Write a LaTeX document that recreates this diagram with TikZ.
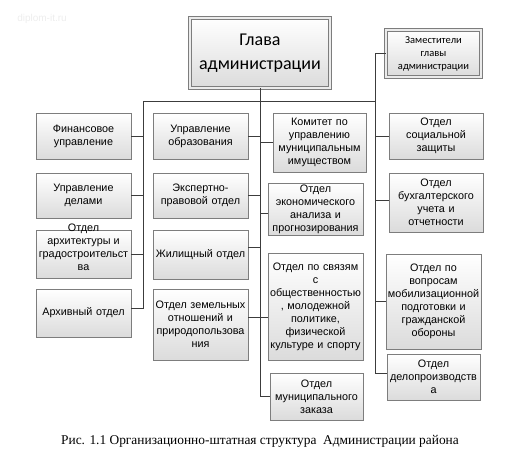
\documentclass[tikz,border=0pt]{standalone}
\usepackage{fontspec}
\setmainfont{Liberation Sans}
\newfontfamily\headfont{Carlito}
\newfontfamily\capfont{Liberation Serif}
\usetikzlibrary{calc}
\usetikzlibrary{shadows}
\definecolor{linegray}{RGB}{60,60,60}
\definecolor{boxgray}{RGB}{125,125,125}
\tikzstyle{unitbox}=[draw=boxgray, line width=0.8pt, top color=white, bottom color=black!14, inner xsep=0pt, inner ysep=0pt, align=center, font=\fontsize{10.8}{13}\selectfont, drop shadow={shadow xshift=1pt, shadow yshift=-1pt, opacity=0.25}]
\tikzstyle{headbox}=[unitbox, draw=boxgray, double=black!8, double distance=1.6pt, font=\headfont\fontsize{18}{24}\selectfont]
\tikzstyle{deputybox}=[headbox, font=\headfont\fontsize{10.5}{13}\selectfont]
\tikzstyle{unittext}=[align=center, inner sep=0pt, font=\fontsize{10.8}{13}\selectfont]
\tikzstyle{link}=[draw=linegray, line width=0.7pt]
\newcommand{\unit}[6][unitbox]{% Syntax: [style] {name} {center} {width} {height} {text}
  \node[#1, minimum width=#4, minimum height=#5, text width=#4] (#2) at (#3) {#6};
}

\begin{document}
\begin{tikzpicture}[x=1pt,y=-1pt]
  \useasboundingbox (0,0) rectangle (517,460);
  \node[text=black!7, font=\fontsize{10}{12}\selectfont] (wmark) at (42,19) {diplom-it.ru};
  % top level
  \unit[headbox]{head}{260,53}{140pt}{70pt}{Глава\\администрации}
  \unit[deputybox]{dep}{433.5,53.5}{95pt}{47pt}{Заместители\\главы\\администрации}
  % left column
  \unit{fin}{83.5,136}{95pt}{46pt}{Финансовое\\управление}
  \unit{aff}{83.5,195.5}{95pt}{45pt}{Управление\\делами}
  \unit{arch}{83.5,254}{95pt}{48pt}{}
  \node[unittext] (archtext) at (83.5,247) {Отдел\\архитектуры и\\градостроительст\\ва};
  \unit{arh}{83.5,313}{95pt}{48pt}{Архивный отдел}
  % second column
  \unit{edu}{200.5,136}{95pt}{46pt}{Управление\\образования}
  \unit{exp}{200.5,195.5}{95pt}{45pt}{Экспертно-\\правовой отдел}
  \unit{zhil}{200.5,254.5}{95pt}{49pt}{Жилищный отдел}
  \unit{zem}{200.5,324.5}{95pt}{71pt}{Отдел земельных\\отношений и\\природопользова\\ния}
  % third column
  \unit{kom}{319.5,142.5}{93pt}{59pt}{Комитет по\\управлению\\муниципальным\\имуществом}
  \unit{eco}{315.5,209}{95pt}{52pt}{Отдел\\экономического\\анализа и\\прогнозирования}
  \unit{svy}{315.5,306.5}{95pt}{107pt}{Отдел по связям\\с\\общественностью\\, молодежной\\политике,\\физической\\культуре и спорту}
  \unit{muz}{316.5,396.5}{93pt}{47pt}{Отдел\\муниципального\\заказа}
  % right column
  \unit{soc}{436,136}{94pt}{46pt}{Отдел\\социальной\\защиты}
  \unit{buh}{436,202.5}{94pt}{59pt}{Отдел\\бухгалтерского\\учета и\\отчетности}
  \unit{mob}{433.5,301.5}{95pt}{95pt}{Отдел по\\вопросам\\мобилизационной\\подготовки и\\гражданской\\обороны}
  \unit{delo}{433.5,377}{93pt}{46pt}{Отдел\\делопроизводств\\а}

  % connectors
  \coordinate (busL) at (143,101);
  \coordinate (busR) at (375,101);
  \draw[link] (busL) -- (busR);
  \draw[link] (head.south) |- (muz.west);
  \draw[link] (busL) |- ([yshift=5pt]arh.east);
  \draw[link] (busR) |- (dep.west);
  \draw[link] (busR) |- ([yshift=4pt]delo.west);
  \foreach \u in {fin,aff,arch}
    \draw[link] (\u.east) -- (\u.east -| busL);
  \foreach \u/\s in {edu/0,exp/0,zhil/7.5,zem/7.5}
    \draw[link] ([yshift=\s pt]\u.east) -- ([yshift=\s pt]\u.east -| head.south);
  \foreach \u/\s in {kom/0,eco/-4,svy/-10.5}
    \draw[link] ([yshift=\s pt]\u.west) -- ([yshift=\s pt]\u.west -| head.south);
  \foreach \u/\s in {soc/0,buh/2,mob/0}
    \draw[link] ([yshift=\s pt]\u.west) -- ([yshift=\s pt]\u.west -| busR);

  \node[font=\capfont\fontsize{13.4}{16}\selectfont] (caption) at (260,441) {Рис. 1.1 Организационно-штатная структура~ Администрации района};
\end{tikzpicture}
\end{document}
